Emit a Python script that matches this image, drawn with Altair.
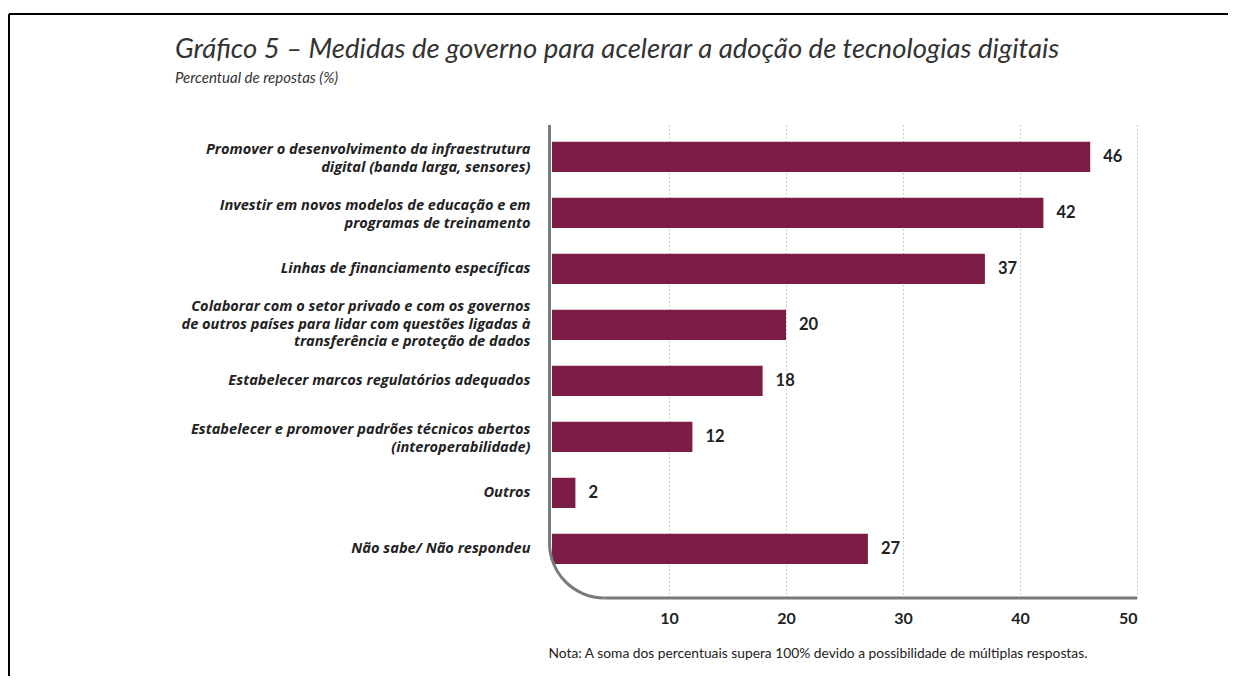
import math
import altair as alt
import pandas as pd

categories = [
    "Promover o desenvolvimento da infraestrutura|digital (banda larga, sensores)",
    "Investir em novos modelos de educação e em|programas de treinamento",
    "Linhas de financiamento específicas",
    "Colaborar com o setor privado e com os governos|de outros países para lidar com questões ligadas à|transferência e proteção de dados",
    "Estabelecer marcos regulatórios adequados",
    "Estabelecer e promover padrões técnicos abertos|(interoperabilidade)",
    "Outros",
    "Não sabe/ Não respondeu",
]
values = [46, 42, 37, 20, 18, 12, 2, 27]
tick_values = [10, 20, 30, 40, 50]

title_text = "Gráfico 5 – Medidas de governo para acelerar a adoção de tecnologias digitais"
subtitle_text = "Percentual de repostas (%)"
note_text = "Nota: A soma dos percentuais supera 100% devido a possibilidade de múltiplas respostas."

W = 585
H = 473
R = 55
LH = 17.5
BAR = "#7B1C44"
AXIS_GRAY = "#7a7a7a"
FONT = "Lato"
LABEL_FONT = "Open Sans"

df = pd.DataFrame({"cat": categories, "val": values})
one = alt.Data(values=[{"k": 1}])

x_enc = alt.X(
    "val:Q",
    scale=alt.Scale(domain=[0, 50], nice=False, zero=True),
    axis=alt.Axis(
        values=tick_values, grid=True, gridDash=[1, 3], gridColor="#9a9a9a", gridWidth=1,
        domain=False, ticks=False, labelFont=FONT, labelFontSize=16, labelFontWeight="bold",
        labelColor="#222", labelPadding=12,
        title=note_text, titleFont=FONT, titleFontSize=13.8, titleFontWeight="normal",
        titleColor="#222", titleAnchor="start", titleAlign="left", titleBaseline="alphabetic",
        titleX=-4, titleY=59,
    ),
)
y_enc = alt.Y(
    "cat:N", sort=categories,
    scale=alt.Scale(paddingInner=0.46, paddingOuter=0.453, align=0.33),
    axis=alt.Axis(
        title=None, domain=False, ticks=False, labelFont=LABEL_FONT, labelFontSize=14.6,
        labelFontStyle="italic", labelFontWeight="bold", labelColor="#222",
        labelPadding=22, labelLimit=0, labelLineHeight=LH,
        labelExpr="split(datum.label, '|')",
        labelOffset={
            "condition": [
                {"test": "length(split(datum.value, '|')) == 3", "value": -LH},
                {"test": "length(split(datum.value, '|')) == 2", "value": -6.5},
            ],
            "value": 0,
        },
    ),
)

bars = alt.Chart(df).mark_bar(color=BAR).encode(x=x_enc, y=y_enc)
labels = alt.Chart(df).mark_text(
    align="left", baseline="middle", dx=13, font=FONT, fontSize=16.5, fontWeight="bold", color="#222"
).encode(x="val:Q", y=alt.Y("cat:N", sort=categories), text="val:Q")

vline = alt.Chart(one).mark_rule(color=AXIS_GRAY, strokeWidth=3).encode(
    x=alt.value(-2.5), y=alt.value(0), y2=alt.value(H - R)
)
hline = alt.Chart(one).mark_rule(color=AXIS_GRAY, strokeWidth=3).encode(
    x=alt.value(R - 2.5), x2=alt.value(W), y=alt.value(H)
)
corner = alt.Chart(one).mark_arc(
    color=AXIS_GRAY, radius=R + 1.5, radius2=R - 1.5, theta=math.pi, theta2=1.5 * math.pi
).encode(x=alt.value(R - 2.5), y=alt.value(H - R))

frame_top = alt.Chart(one).mark_rule(color="#000", strokeWidth=2).encode(
    x=alt.value(-543), x2=alt.value(800), y=alt.value(-111)
)
frame_left = alt.Chart(one).mark_rule(color="#000", strokeWidth=2).encode(
    x=alt.value(-543), y=alt.value(-111), y2=alt.value(700)
)

title = alt.Chart(one).mark_text(
    text=title_text, align="left", baseline="alphabetic", font=FONT, fontSize=27.5,
    fontStyle="italic", color="#333"
).encode(x=alt.value(-377), y=alt.value(-67))
subtitle = alt.Chart(one).mark_text(
    text=subtitle_text, align="left", baseline="alphabetic", font=FONT, fontSize=15,
    fontStyle="italic", color="#333"
).encode(x=alt.value(-377), y=alt.value(-42))

chart = alt.layer(
    bars, labels, vline, hline, corner, frame_top, frame_left, title, subtitle
).properties(
    width=W, height=H,
    autosize=alt.AutoSizeParams(type="none"),
    padding={"left": 544, "top": 117, "right": 91, "bottom": 78},
).configure_view(stroke=None)

chart.save("out.html", embed_options={"renderer": "svg", "actions": False})
